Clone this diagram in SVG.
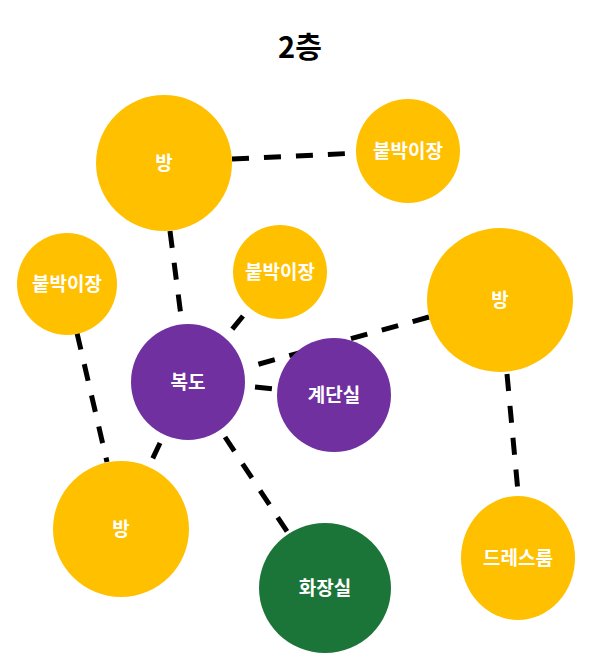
<svg xmlns="http://www.w3.org/2000/svg" width="602" height="670" viewBox="0 0 602 670">
<style>
.y{fill:#FFC000}
.p{fill:#7030A0}
.g{fill:#1C7538}
.t{fill:#fff;font-family:"Noto Sans CJK KR","Noto Sans",sans-serif;font-weight:bold;font-size:19px;text-anchor:middle}
.title{fill:#000;font-family:"Noto Sans CJK KR","Noto Sans",sans-serif;font-weight:bold;font-size:29px;text-anchor:middle}
.c line{stroke:#000;stroke-width:5;stroke-dasharray:17 15}
</style>
<rect width="602" height="670" fill="#fff"/>
<text class="title" x="300" y="58">2층</text>
<g class="c" id="connectors">
<line x1="232" y1="159" x2="358" y2="153"/>
<line x1="170" y1="231" x2="181" y2="316"/>
<line x1="77" y1="333" x2="107" y2="462"/>
<line x1="243" y1="316" x2="230" y2="332"/>
<line x1="429" y1="317" x2="252" y2="366"/>
<line x1="255" y1="387" x2="274" y2="389"/>
<line x1="160" y1="443" x2="152" y2="460"/>
<line x1="225" y1="437" x2="288" y2="533"/>
<line x1="507" y1="374" x2="518" y2="492"/>
</g>
<g id="room1"><ellipse class="y" cx="164" cy="163" rx="68" ry="68"/><text class="t" x="164" y="170">방</text></g>
<g id="closet1"><ellipse class="y" cx="408" cy="151" rx="52" ry="52"/><text class="t" x="408" y="158">붙박이장</text></g>
<g id="closet2"><ellipse class="y" cx="67" cy="284" rx="50" ry="51"/><text class="t" x="67" y="291">붙박이장</text></g>
<g id="closet3"><ellipse class="y" cx="280" cy="272" rx="47" ry="47"/><text class="t" x="280" y="279">붙박이장</text></g>
<g id="room2"><ellipse class="y" cx="500" cy="300" rx="73" ry="72"/><text class="t" x="500" y="307">방</text></g>
<g id="hall"><ellipse class="p" cx="188" cy="382" rx="57" ry="58"/><text class="t" x="188" y="389">복도</text></g>
<g id="stairs"><ellipse class="p" cx="334" cy="395" rx="57" ry="57"/><text class="t" x="334" y="402">계단실</text></g>
<g id="room3"><ellipse class="y" cx="121" cy="529" rx="68" ry="68"/><text class="t" x="121" y="536">방</text></g>
<g id="bath"><ellipse class="g" cx="325" cy="588" rx="66" ry="65"/><text class="t" x="325" y="595">화장실</text></g>
<g id="dress"><ellipse class="y" cx="518" cy="558" rx="57" ry="62"/><text class="t" x="518" y="565">드레스룸</text></g>
</svg>
